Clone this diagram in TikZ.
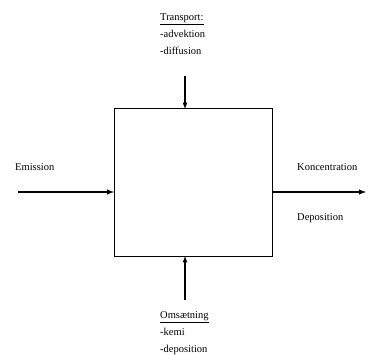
\documentclass[tikz,border=0pt]{standalone}
\usepackage{fontspec}
\setmainfont{Liberation Serif}
\usetikzlibrary{arrows}
\begin{document}
\begin{tikzpicture}[x=1pt,y=-1pt,
    lbl/.style={font=\fontsize{10.5}{17}\selectfont, inner sep=0pt},
    list/.style={lbl, align=left, anchor=north west}]
    \useasboundingbox (0,0) rectangle (369,355);
    \coordinate (BoxNW) at (114,109);
    \coordinate (BoxSE) at (272,256);
    \draw [line width=1pt] (BoxNW) rectangle (BoxSE);% Draw box

    \coordinate (InStart)  at (18,192);
    \coordinate (InEnd)    at (114,192);
    \coordinate (OutStart) at (272,192);
    \coordinate (OutEnd)   at (366,192);
    \coordinate (TopStart) at (185,76);
    \coordinate (TopEnd)   at (185,109);
    \coordinate (BotStart) at (185,300);
    \coordinate (BotEnd)   at (185,256);
    \draw [line width=1.4pt,-latex] (InStart) -- (InEnd);% Draw emission arrow
    \draw [line width=1.4pt,-latex] (OutStart) -- (OutEnd);% Draw output arrow
    \draw [line width=1.2pt,-latex] (TopStart) -- (TopEnd);% Draw transport arrow
    \draw [line width=1.2pt,-latex] (BotStart) -- (BotEnd);% Draw conversion arrow

    \node [lbl, anchor=west] (Emission) at (15,167) {Emission};
    \node [lbl, anchor=west] (Konc) at (297,167) {Koncentration};
    \node [lbl, anchor=west] (Depo) at (297,218) {Deposition};
    \node [list] (Transport) at (160,13) {\underline{Transport:}\\-advektion\\-diffusion};
    \node [list] (Omsaet) at (160,311) {\underline{Omsætning}\\-kemi\\-deposition};
\end{tikzpicture}
\end{document}
